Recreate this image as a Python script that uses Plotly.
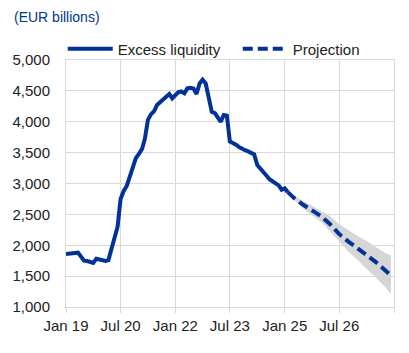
import plotly.graph_objects as go
import pandas as pd

# Historical excess liquidity (monthly, EUR billions), Jan 2019 - Feb 2025
hist_start = "2019-01-01"
hist_values = [
    1860, 1870, 1870, 1875, 1880, 1800, 1750, 1745, 1730, 1715, 1780, 1765,   # 2019
    1750, 1745, 1760, 1950, 2100, 2300, 2750, 2880, 2960, 3100, 3250, 3410,   # 2020
    3480, 3560, 3720, 4030, 4120, 4170, 4270, 4320, 4370, 4410, 4450, 4380,   # 2021
    4430, 4480, 4490, 4460, 4540, 4550, 4540, 4450, 4620, 4680, 4620, 4400,   # 2022
    4160, 4140, 4080, 4000, 4110, 4100, 3680, 3660, 3630, 3590, 3560, 3540,   # 2023
    3520, 3500, 3470, 3300, 3250, 3200, 3130, 3070, 3040, 3000, 2970, 2900,   # 2024
    2920, 2860,                                                               # 2025
]

# Projection (quarterly), with uncertainty band
proj_dates = ["2025-02-01", "2025-04-01", "2025-07-01", "2025-10-01", "2026-01-01",
              "2026-04-01", "2026-07-01", "2026-10-01", "2027-01-01", "2027-04-01",
              "2027-07-01", "2027-10-01", "2027-12-01"]
proj_values = [2860, 2770, 2660, 2560, 2470, 2340, 2180, 2060, 1950, 1850, 1730, 1600, 1510]
band_upper = [2860, 2800, 2720, 2640, 2560, 2470, 2340, 2240, 2150, 2070, 1980, 1880, 1840]
band_lower = [2860, 2740, 2600, 2480, 2380, 2230, 2060, 1900, 1760, 1620, 1480, 1330, 1210]

series_names = ["Excess liquidity", "Projection"]

tick_dates = ["2019-01-01", "2020-07-01", "2022-01-01", "2023-07-01", "2025-01-01",
              "2026-07-01", "2028-01-01"]
tick_labels = ["Jan 19", "Jul 20", "Jan 22", "Jul 23", "Jan 25", "Jul 26", ""]
y_ticks = [1000, 1500, 2000, 2500, 3000, 3500, 4000, 4500, 5000]

hist_dates = pd.date_range(hist_start, periods=len(hist_values), freq="MS")

BLUE = "#003299"
GRID = "#d9d9d9"
FONT = "Liberation Sans, Arial, sans-serif"
NBSP = "\u00a0"

fig = go.Figure()

fig.add_trace(go.Scatter(
    x=proj_dates + proj_dates[::-1],
    y=band_upper + band_lower[::-1],
    fill="toself", fillcolor="#d6d6d6", line=dict(width=0),
    hoverinfo="skip", showlegend=False,
))
fig.add_trace(go.Scatter(
    x=hist_dates, y=hist_values, mode="lines", name=series_names[0] + NBSP * 3,
    line=dict(color=BLUE, width=4),
))
fig.add_trace(go.Scatter(
    x=proj_dates, y=proj_values, mode="lines", name=series_names[1],
    line=dict(color=BLUE, width=4, dash="10px,5px"),
))

fig.update_layout(
    width=409, height=353,
    margin=dict(l=66, r=15, t=60, b=46),
    paper_bgcolor="white", plot_bgcolor="white",
    font=dict(family=FONT, size=15, color="#222222"),
    showlegend=True,
    legend=dict(orientation="h", x=-0.01, xanchor="left", y=1 + 11/247, yanchor="middle",
                font=dict(size=15, color="#222222"), itemwidth=45,
                bgcolor="rgba(0,0,0,0)", tracegroupgap=0),
    annotations=[dict(text="(EUR billions)", xref="paper", yref="paper",
                      x=-54/328, y=1 + 43/247, xanchor="left", yanchor="middle",
                      showarrow=False, font=dict(size=14, color=BLUE, family=FONT))],
)

fig.update_xaxes(
    type="date", range=["2019-01-01", "2028-01-01"],
    tickmode="array", tickvals=tick_dates, ticktext=tick_labels,
    showgrid=True, gridcolor=GRID, gridwidth=1,
    showline=True, linecolor=GRID, linewidth=1, mirror=True,
    ticks="outside", ticklen=5, tickcolor=GRID,
    tickfont=dict(size=15, color="#222222"), zeroline=False,
)
fig.update_yaxes(
    range=[1000, 5000], tickmode="array", tickvals=y_ticks, tickformat=",",
    showgrid=True, gridcolor=GRID, gridwidth=1,
    showline=True, linecolor=GRID, linewidth=1, mirror=True,
    ticks="", ticklabelstandoff=12,
    tickfont=dict(size=15, color="#222222"), zeroline=False,
)

fig.write_html("out.html")
